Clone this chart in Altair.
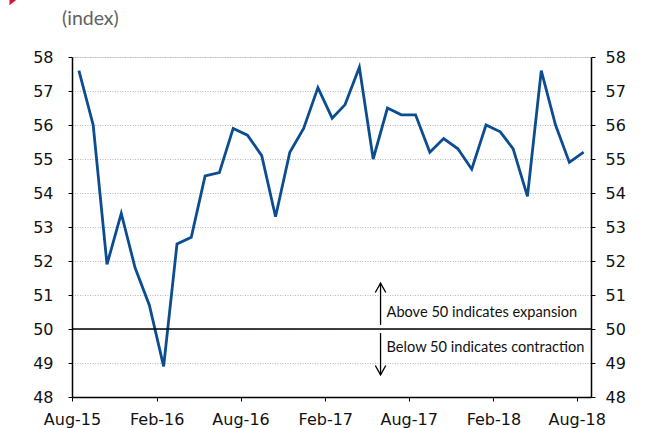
import altair as alt
import pandas as pd

months = pd.date_range("2015-08-01", "2018-08-01", freq="MS")
values = [57.6, 56.0, 51.9, 53.4, 51.8, 50.7, 48.9, 52.5, 52.7, 54.5, 54.6, 55.9,
          55.7, 55.1, 53.3, 55.2, 55.9, 57.1, 56.2, 56.6, 57.7, 55.0, 56.5, 56.3,
          56.3, 55.2, 55.6, 55.3, 54.7, 56.0, 55.8, 55.3, 53.9, 57.6, 56.0, 54.9, 55.2]
tick_dates = ["2015-08-01", "2016-02-01", "2016-08-01", "2017-02-01",
              "2017-08-01", "2018-02-01", "2018-08-01"]
y_ticks = list(range(48, 59))
label_above = "Above 50 indicates expansion"
label_below = "Below 50 indicates contraction"

df = pd.DataFrame({"date": months + pd.Timedelta(days=15), "value": values})

x_dom = [alt.DateTime(year=2015, month=8, date=1), alt.DateTime(year=2018, month=9, date=1)]
xscale = alt.Scale(domain=x_dom)
yscale = alt.Scale(domain=[48, 58], nice=False, zero=False)

FONT = "DejaVu Sans"
tick_values = [alt.DateTime(year=int(d[:4]), month=int(d[5:7]), date=1) for d in tick_dates]

x_axis = alt.Axis(values=tick_values, format="%b-%y", labelFont=FONT, labelFontSize=16,
                  labelColor="#111", domainColor="#000", tickColor="#000", tickSize=4,
                  labelPadding=10, grid=False, title=None, labelAlign="center",
                  domainWidth=1.5)

left_axis = alt.Axis(values=y_ticks, orient="left", labelFont=FONT, labelFontSize=16,
                     labelColor="#111", domainColor="#000", tickColor="#000", tickSize=4,
                     labelPadding=15, grid=True, gridColor="#b8b8b8", gridDash=[1, 1.5],
                     gridWidth=1, title=None, domainWidth=1.5)
right_axis = alt.Axis(values=y_ticks, orient="right", labelFont=FONT, labelFontSize=16,
                      labelColor="#111", domainColor="#000", tickColor="#000", tickSize=4,
                      labelPadding=10, grid=False, title=None, domainWidth=1.5)

line = alt.Chart(df).mark_line(color="#0b4d90", strokeWidth=2.8).encode(
    x=alt.X("date:T", scale=xscale, axis=x_axis),
    y=alt.Y("value:Q", scale=yscale, axis=left_axis),
)
right = alt.Chart(df).mark_line(opacity=0).encode(
    x=alt.X("date:T", scale=xscale),
    y=alt.Y("value:Q", scale=yscale, axis=right_axis),
)

rule50 = alt.Chart(pd.DataFrame({"y": [50]})).mark_rule(color="#000", strokeWidth=1.5).encode(
    y=alt.Y("y:Q", scale=yscale, axis=None)
)

arrows = pd.DataFrame({
    "date": pd.to_datetime(["2017-06-01", "2017-06-01"]),
    "y": [51.35, 48.65],
    "y2": [50.12, 49.88],
})
shafts = alt.Chart(arrows).mark_rule(color="#000", strokeWidth=1.3).encode(
    x=alt.X("date:T", scale=xscale), y=alt.Y("y:Q", scale=yscale, axis=None), y2="y2:Q"
)
head_up = alt.Chart(arrows.iloc[[0]]).mark_point(
    shape="M-1,1.8 L0,0 L1,1.8", filled=False, stroke="#000", strokeWidth=1.3, size=110, opacity=1
).encode(x=alt.X("date:T", scale=xscale), y=alt.Y("y:Q", scale=yscale, axis=None))
head_dn = alt.Chart(arrows.iloc[[1]]).mark_point(
    shape="M-1,-1.8 L0,0 L1,-1.8", filled=False, stroke="#000", strokeWidth=1.3, size=110, opacity=1
).encode(x=alt.X("date:T", scale=xscale), y=alt.Y("y:Q", scale=yscale, axis=None))

notes = pd.DataFrame({
    "date": pd.to_datetime(["2017-06-14", "2017-06-14"]),
    "y": [50.35, 49.32],
    "text": [label_above, label_below],
})
note_text = alt.Chart(notes).mark_text(align="left", baseline="alphabetic", font="Lato",
                                       fontSize=14.6, color="#111").encode(
    x=alt.X("date:T", scale=xscale), y=alt.Y("y:Q", scale=yscale, axis=None), text="text:N"
)

unit = alt.Chart(pd.DataFrame({"t": ["(index)"]})).mark_text(
    align="left", baseline="middle", font="Lato", fontSize=19.5, color="#626262"
).encode(x=alt.value(-10), y=alt.value(-38), text="t:N")

logo = alt.Chart(pd.DataFrame({"t": [1]})).mark_point(
    shape="M-1,-1 L1,-1 L-1,0.6 Z", filled=True, color="#d4123a", size=120, opacity=1
).encode(x=alt.value(-57), y=alt.value(-55))

chart = alt.layer(line, right, rule50, shafts, head_up, head_dn, note_text, unit, logo).resolve_scale(
    y="independent"
).properties(
    width=519, height=340,
    autosize=alt.AutoSizeParams(type="none"),
    padding={"left": 72, "top": 57, "right": 55, "bottom": 31},
).configure_view(stroke=None).configure(background="white")

chart.save("out.html", embed_options={"renderer": "svg", "actions": False})
